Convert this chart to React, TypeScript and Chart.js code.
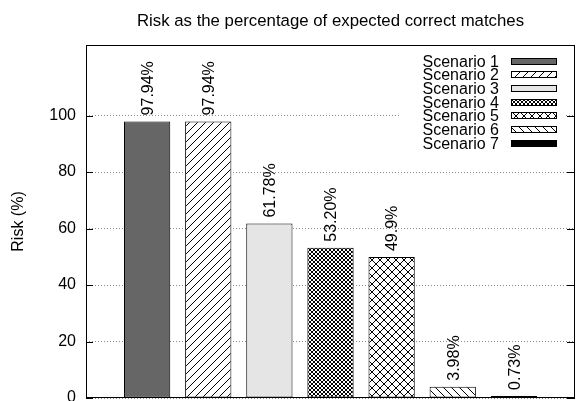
import React, { useEffect, useRef } from "react";
import { Chart, registerables } from "chart.js";

Chart.register(...registerables);

// ---- data ----
const scenarios = [
  "Scenario 1",
  "Scenario 2",
  "Scenario 3",
  "Scenario 4",
  "Scenario 5",
  "Scenario 6",
  "Scenario 7",
];
const positions = [1, 2, 3, 4, 5, 6, 7];
const risks = [97.94, 97.94, 61.78, 53.2, 49.9, 3.98, 0.73];
const valueLabels = ["97.94%", "97.94%", "61.78%", "53.20%", "49.9%", "3.98%", "0.73%"];
const yTickValues = [0, 20, 40, 60, 80, 100];
const titleText = "Risk as the percentage of expected correct matches";
const yAxisTitle = "Risk (%)";

// ---- styles ----
const fillKinds = ["solid:#666666", "fwd", "solid:#e5e5e5", "dense", "cross", "back", "solid:#000000"];
const FONT = '"Liberation Sans", Arial, Helvetica, sans-serif';

function makeFill(kind: string): string | CanvasPattern {
  if (kind.startsWith("solid:")) return kind.slice(6);
  const size = kind === "dense" ? 4 : 8;
  const c = document.createElement("canvas");
  c.width = size;
  c.height = size;
  const g = c.getContext("2d")!;
  g.fillStyle = "#ffffff";
  g.fillRect(0, 0, size, size);
  g.fillStyle = "#000000";
  for (let i = 0; i < size; i++) {
    if (kind === "fwd" || kind === "cross" || kind === "dense") g.fillRect(i, size - 1 - i, 1, 1);
    if (kind === "back" || kind === "cross" || kind === "dense") g.fillRect(i, i, 1, 1);
  }
  const p = g.createPattern(c, "repeat");
  return p || "#888";
}

export default function App() {
  const ref = useRef<HTMLCanvasElement>(null);

  useEffect(() => {
    const canvas = ref.current!;
    const fills = fillKinds.map(makeFill);

    const decor = {
      id: "decor",
      beforeDraw(chart: any) {
        const { ctx } = chart;
        ctx.save();
        ctx.fillStyle = "#ffffff";
        ctx.fillRect(0, 0, chart.width, chart.height);
        ctx.restore();
      },
      afterDatasetsDraw(chart: any) {
        const { ctx, chartArea: a } = chart;
        const yScale = chart.scales.y;
        ctx.save();

        // value labels (rotated)
        const meta = chart.getDatasetMeta(0);
        ctx.fillStyle = "#000";
        ctx.font = `16px ${FONT}`;
        ctx.textAlign = "left";
        ctx.textBaseline = "alphabetic";
        meta.data.forEach((el: any, i: number) => {
          ctx.save();
          ctx.translate(el.x + 5.8, el.y - 6);
          ctx.rotate(-Math.PI / 2);
          ctx.fillText(valueLabels[i], 0, 0);
          ctx.restore();
        });

        // key (opaque)
        const keyTop = 61;
        const rowH = 13.67;
        ctx.fillStyle = "#ffffff";
        ctx.fillRect(401, 50, 165, 100);
        scenarios.forEach((name, i) => {
          const cy = keyTop + i * rowH;
          ctx.fillStyle = "#000";
          ctx.textAlign = "right";
          ctx.fillText(name, 499, cy + 5.8);
          const bx = 511, bw = 46, bh = 7;
          const by = Math.round(cy - bh / 2);
          ctx.fillStyle = fills[i] as any;
          ctx.fillRect(bx, by, bw, bh);
          ctx.strokeStyle = "#000";
          ctx.lineWidth = 1;
          ctx.strokeRect(bx + 0.5, by + 0.5, bw - 1, bh - 1);
        });

        // frame
        ctx.strokeStyle = "#000";
        ctx.lineWidth = 1;
        ctx.strokeRect(a.left + 0.5, a.top + 0.5, a.right - a.left - 1, a.bottom - a.top - 1);

        // inward tick marks on both sides
        yScale.ticks.forEach((t: any) => {
          const py = Math.round(yScale.getPixelForValue(t.value)) + 0.5;
          ctx.beginPath();
          ctx.moveTo(a.left, py);
          ctx.lineTo(a.left + 7, py);
          ctx.moveTo(a.right - 8, py);
          ctx.lineTo(a.right, py);
          ctx.stroke();
        });

        // title
        ctx.fillStyle = "#000";
        ctx.textAlign = "center";
        ctx.font = `16.8px ${FONT}`;
        ctx.fillText(titleText, (a.left + a.right) / 2, 26);
        ctx.restore();
      },
    };

    const chart = new Chart(canvas, {
      type: "bar",
      data: {
        datasets: [
          {
            label: "Risk",
            data: positions.map((x, i) => ({ x, y: risks[i] })),
            backgroundColor: fills as any,
            borderColor: "#000",
            borderWidth: 1,
            borderSkipped: false,
            barPercentage: 0.757,
            categoryPercentage: 1,
          } as any,
        ],
      },
      options: {
        responsive: false,
        animation: false,
        devicePixelRatio: 1,
        layout: { padding: { top: 45, right: 1, bottom: 3, left: 0 } },
        plugins: {
          legend: { display: false },
          title: { display: false },
          tooltip: { enabled: false },
        },
        scales: {
          x: {
            type: "linear",
            min: 0,
            max: 8,
            offset: false,
            display: false,
          },
          y: {
            min: 0,
            max: 125,
            afterBuildTicks: (scale: any) => {
              scale.ticks = yTickValues.map((v) => ({ value: v }));
            },
            afterFit: (scale: any) => {
              scale.width = 86;
              scale.paddingTop = 0;
              scale.paddingBottom = 0;
            },
            ticks: {
              padding: 10,
              color: "#000",
              font: { family: FONT, size: 16 },
            },
            grid: {
              drawTicks: false,
              color: "#8a8a8a",
              lineWidth: 1,
            },
            border: { display: false, dash: [1, 2] },
            title: {
              display: true,
              text: yAxisTitle,
              color: "#000",
              font: { family: FONT, size: 16 },
              padding: { top: 9, bottom: 0 },
            },
          },
        },
      } as any,
      plugins: [decor],
    });

    return () => chart.destroy();
  }, []);

  return (
    <div style={{ position: "absolute", left: 0, top: 0, width: 576, height: 401, background: "#fff" }}>
      <canvas ref={ref} width={576} height={401} style={{ display: "block", width: 576, height: 401 }} />
    </div>
  );
}
